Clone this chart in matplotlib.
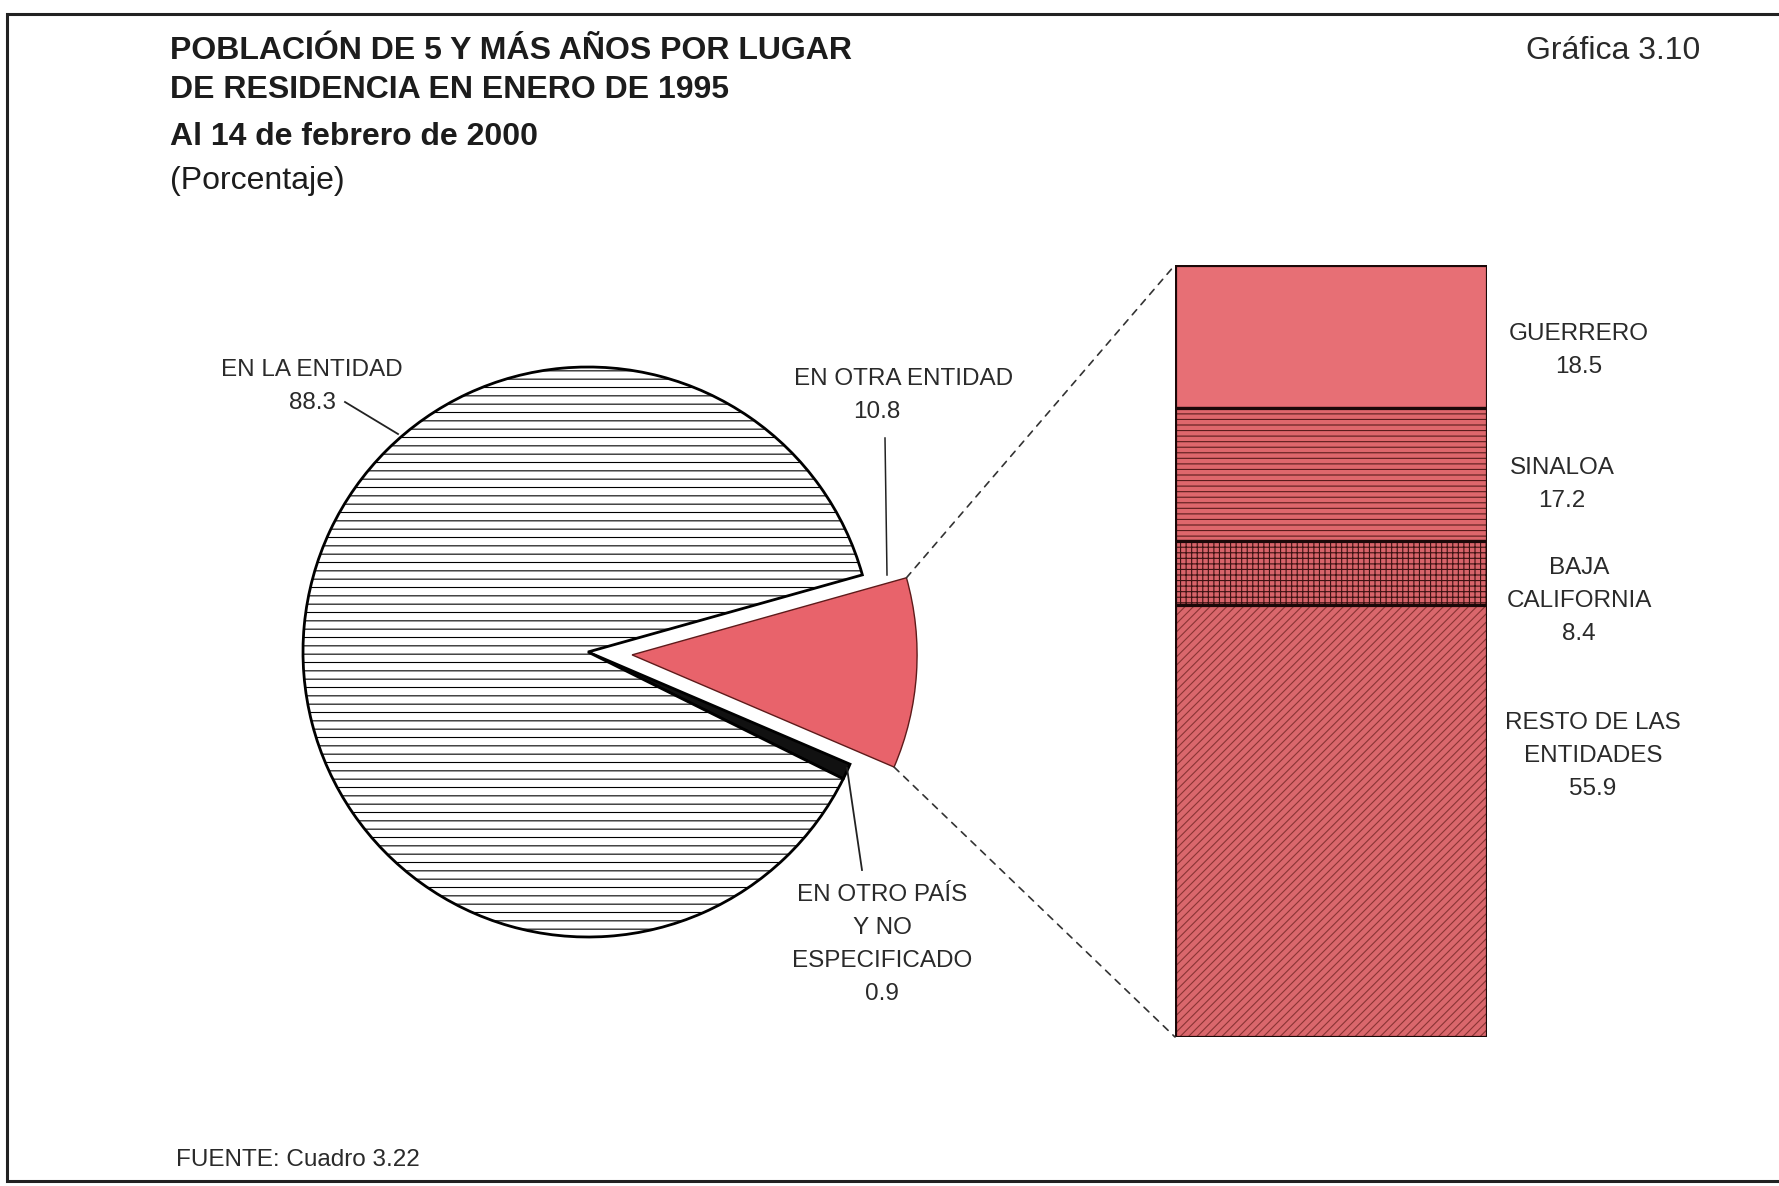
import matplotlib
matplotlib.use('Agg')
import matplotlib.pyplot as plt
import numpy as np
from matplotlib.patches import ConnectionPatch

W, H = 1779, 1186

# pie data (drawn clockwise starting with the exploded slice)
pie_labels = ['EN OTRA ENTIDAD', 'EN OTRO PAÍS\nY NO\nESPECIFICADO', 'EN LA ENTIDAD']
pie_values = [10.8, 0.9, 88.3]

# breakdown of "EN OTRA ENTIDAD", top to bottom
bar_labels = ['GUERRERO', 'SINALOA', 'BAJA\nCALIFORNIA', 'RESTO DE LAS\nENTIDADES']
bar_values = [18.5, 17.2, 8.4, 55.9]

title_lines = ['POBLACIÓN DE 5 Y MÁS AÑOS POR LUGAR', 'DE RESIDENCIA EN ENERO DE 1995']
subtitle = 'Al 14 de febrero de 2000'
units = '(Porcentaje)'
chart_no = 'Gráfica 3.10'
source = 'FUENTE: Cuadro 3.22'

plt.rcParams['font.family'] = ['Liberation Sans', 'DejaVu Sans']
plt.rcParams['hatch.linewidth'] = 0.8

fig = plt.figure(figsize=(W / 100, H / 100), dpi=100)
fig.patch.set_facecolor('white')

# ---- pie ----
R = 285.0
cx, cy = 588.0, 652.0
half = 1.3 * R
ax_pie = fig.add_axes([(cx - half) / W, (H - cy - half) / H, 2 * half / W, 2 * half / H])
wedges, _ = ax_pie.pie(pie_values, explode=[0.155, 0, 0], startangle=15.7,
                       counterclock=False, colors=['#E8636B', '#111111', 'white'],
                       wedgeprops=dict(linewidth=2, edgecolor='black'))
wedges[0].set_edgecolor('#5e1a1a')
wedges[0].set_linewidth(1)
wedges[2].set_hatch('--')
ax_pie.set_xlim(-1.3, 1.3)
ax_pie.set_ylim(-1.3, 1.3)
ax_pie.axis('off')

# ---- stacked bar ----
ax_bar = fig.add_axes([1175 / W, 1 - 1037 / H, 312 / W, 772 / H])
face = ['#E76F75', '#DE676C', '#D8646A', '#DA676C']
hatch = ['', '---', '+++', '////']
hcol = ['#E76F75', '#5a1c1c', '#3d1212', '#8a3434']
tops = 100 - np.concatenate([[0], np.cumsum(bar_values)[:-1]])
bottoms = tops - np.array(bar_values)
for v, b, fc, ht, hc in zip(bar_values, bottoms, face, hatch, hcol):
    ax_bar.bar(0, v, bottom=b, width=1, color=fc, edgecolor=hc, linewidth=0, hatch=ht)
    ax_bar.bar(0, v, bottom=b, width=1, fill=False, edgecolor='#1a0808', linewidth=2.3)
ax_bar.set_xlim(-0.5, 0.5)
ax_bar.set_ylim(0, 100)
ax_bar.axis('off')

# dashed connectors from the exploded slice to the bar
w0 = wedges[0]
for ang, yb in [(w0.theta2, 100), (w0.theta1, 0)]:
    p = (w0.center[0] + w0.r * np.cos(np.radians(ang)),
         w0.center[1] + w0.r * np.sin(np.radians(ang)))
    con = ConnectionPatch(xyA=p, coordsA=ax_pie.transData, xyB=(-0.5, yb),
                          coordsB=ax_bar.transData, linestyle=(0, (4, 4)),
                          linewidth=1.2, color='#333333')
    fig.add_artist(con)

# ---- overlay for texts, frame and leaders (pixel coords) ----
ax0 = fig.add_axes([0, 0, 1, 1])
ax0.set_xlim(0, W)
ax0.set_ylim(H, 0)
ax0.axis('off')

ax0.plot([W + 5, 7, 7, W + 5], [14, 14, 1181, 1181], color='#222222', lw=2.2,
         solid_joinstyle='miter')

tc = '#1c1c1c'
ax0.text(170, 59, title_lines[0], size=23, weight='bold', color=tc)
ax0.text(170, 98, title_lines[1], size=23, weight='bold', color=tc)
ax0.text(170, 145, subtitle, size=23, weight='bold', color=tc)
ax0.text(170, 189, units, size=23, color=tc)
ax0.text(1700, 59, chart_no, size=23, color='#2a2a2a', ha='right')
ax0.text(176, 1160, source, size=17.5, color='#2a2a2a', va='center')

lc = '#2a2a2a'


def put_lines(x, y0, lines, step=33, size=17.5):
    for i, s in enumerate(lines):
        ax0.text(x, y0 + i * step - 2, s, ha='center', va='center', size=size, color=lc)


# pie labels
put_lines(904, 381, [pie_labels[0]])
put_lines(877, 414, [f'{pie_values[0]:.1f}'])
put_lines(882, 897, pie_labels[1].split('\n') + [f'{pie_values[1]:.1f}'])
put_lines(312, 372, pie_labels[2].split('\n') + [f'{pie_values[2]:.1f}'])

# leader lines
ax0.plot([345, 398], [402, 434], color='#222222', lw=1.3)
ax0.plot([885, 887], [438, 575], color='#222222', lw=1.1)
ax0.plot([847, 862], [768, 870], color='#222222', lw=1.3)

# bar labels
bar_pos = [(1579, 336), (1562, 470), (1579, 570), (1593, 725)]
for lab, v, (x, y) in zip(bar_labels, bar_values, bar_pos):
    put_lines(x, y, lab.split('\n') + [f'{v:.1f}'])

fig.savefig('out.png', dpi=100, facecolor='white')
